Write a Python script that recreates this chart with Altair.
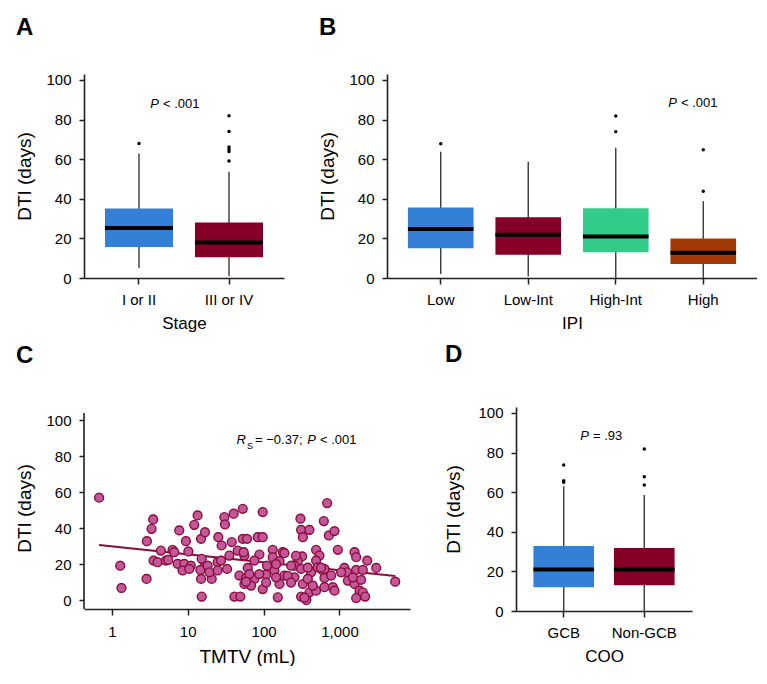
import altair as alt
import pandas as pd

FONT = "Liberation Sans"
INK = "#231f20"
BLUE = "#3380d6"
MAROON = "#850026"
GREEN = "#31cd88"
BROWN = "#a33a05"

# ---------------- Panel A: Stage ----------------
stage_cats = ["I or II", "III or IV"]
stage_q1 = [15.7, 10.5]
stage_med = [25.3, 17.9]
stage_q3 = [35.1, 28.0]
stage_lo = [5.1, 1.0]
stage_hi = [62.8, 53.7]
stage_out_cat = ["I or II", "III or IV", "III or IV", "III or IV", "III or IV", "III or IV", "III or IV"]
stage_out_val = [67.9, 81.9, 74.0, 66.2, 65.0, 63.9, 59.1]

# ---------------- Panel B: IPI ----------------
ipi_cats = ["Low", "Low-Int", "High-Int", "High"]
ipi_q1 = [15.0, 11.8, 13.0, 7.1]
ipi_med = [24.8, 21.9, 20.9, 12.8]
ipi_q3 = [35.6, 30.7, 35.2, 19.9]
ipi_lo = [2.0, 0.8, 0.0, 0.0]
ipi_hi = [63.7, 58.7, 65.8, 38.8]
ipi_out_cat = ["Low", "High-Int", "High-Int", "High", "High"]
ipi_out_val = [67.8, 81.8, 73.9, 64.8, 43.8]

# ---------------- Panel D: COO ----------------
coo_cats = ["GCB", "Non-GCB"]
coo_q1 = [12.0, 13.0]
coo_med = [20.9, 20.9]
coo_q3 = [32.8, 31.8]
coo_lo = [0.0, 0.0]
coo_hi = [63.0, 58.6]
coo_out_cat = ["GCB", "GCB", "GCB", "Non-GCB", "Non-GCB", "Non-GCB"]
coo_out_val = [73.7, 65.8, 65.0, 81.8, 67.8, 63.6]

# ---------------- Panel C: TMTV vs DTI ----------------
tmtv = [0.68, 1.29, 1.34, 2.90, 2.87, 3.34, 3.51, 3.55, 4.01, 4.43, 5.16, 5.54, 6.32, 6.65,
        7.36, 7.74, 9.01, 8.57, 9.48, 10.2, 11.0, 10.5, 12.2, 13.5, 15.0, 16.9, 15.3, 16.5,
        14.7, 15.0, 20.7, 18.3, 19.3, 15.3, 24.8, 27.5, 25.3, 28.0, 30.4, 31.0, 40.3, 53.1,
        33.0, 24.8, 35.4, 38.0, 45.6, 53.1, 55.8, 48.0, 58.7, 41.2, 49.4,
        60.5, 54.7, 83.7, 97.4, 97.4, 132, 179, 188, 88.0, 75.6, 132, 162, 322, 282, 255,
        492, 545, 492, 1580, 1660, 2320, 3050, 5430, 1160, 1260, 1660, 2030, 61.8, 108, 139,
        111, 231, 312, 255, 423, 603, 634, 777, 75.6, 97.4, 162, 154, 329, 312, 402, 492, 634,
        817, 860, 1290, 1580, 1930, 1840, 1660, 2030, 2180, 55.8, 68.4, 188, 382, 445, 1052,
        518, 634, 312, 402, 329, 306, 622, 688, 724, 860, 951, 1500, 146,
        65, 87.6, 58.6, 108, 146, 208, 382, 571, 267, 230, 366, 345]
dti = [56.9, 19.1, 6.7, 32.7, 11.7, 39.6, 44.8, 21.9, 21.0, 27.5, 21.9, 22.3, 27.9, 26.6,
       20.1, 38.7, 20.1, 16.4, 32.7, 27.0, 19.1, 17.3, 41.8, 47.0, 34.0, 37.7, 22.9, 18.2,
       16.7, 11.7, 11.7, 19.1, 15.4, 1.9, 21.0, 21.9, 34.9, 30.3, 46.1, 42.0, 48.0, 50.7,
       17.3, 16.4, 24.7, 32.2, 27.5, 34.0, 24.7, 13.6, 12.3, 1.9, 1.9,
       34.0, 26.6, 34.9, 34.9, 48.9, 27.9, 26.6, 26.0, 25.3, 21.9, 23.8, 21.6, 24.2, 21.6, 19.1,
       27.9, 24.7, 21.9, 26.6, 23.8, 21.9, 17.8, 10.2, 17.8, 15.4, 16.7, 16.7, 17.8, 14.1, 16.4,
       19.1, 19.1, 17.3, 12.6, 15.4, 16.4, 12.3, 13.6, 11.7, 6.1, 8.9, 1.5, 8.9, 1.9, 4.3, 5.2, 7.1,
       7.1, 5.2, 10.8, 8.9, 11.2, 5.2, 1.1, 4.3, 1.9, 8.9, 8.0, 13.6, 11.7, 8.0, 15.4,
       18.2, 17.3, 39.0, 39.0, 34.9, 45.2, 43.9, 53.9, 35.9, 38.3, 27.9, 12.6, 12.6,
       14.4, 14.4, 10.2, 9.7, 19.9, 13.4, 18.0, 18.0, 24.6, 9.7, 0.0, 1.3]

Y_TICKS = [0, 20, 40, 60, 80, 100]


def y_axis(title_pad=11, domain=True):
    return alt.Axis(title="DTI (days)", values=Y_TICKS, tickSize=5, labelPadding=8,
                    titlePadding=title_pad, grid=False, domain=domain)


def text_layer(txt, x, y, size=13, italic=False, align="left", baseline="middle"):
    return alt.Chart(pd.DataFrame({"t": [txt]})).mark_text(
        text=txt, font=FONT, fontSize=size, fontStyle="italic" if italic else "normal",
        align=align, baseline=baseline, color="black"
    ).encode(x=alt.value(x), y=alt.value(y))


def box_panel(key, cats, q1, med, q3, lo, hi, out_cat, out_val, colors, width, pi, po,
              xtitle, letter, toffset, annots, title_pad=11):
    summ = pd.DataFrame({key: cats, "q1": q1, "med": med, "q3": q3, "lo": lo, "hi": hi})
    outs = pd.DataFrame({key: out_cat, "val": out_val})
    step = width / (len(cats) - pi + 2 * po)
    box_px = step * (1 - pi)
    xenc = alt.X(f"{key}:N", sort=cats,
                 scale=alt.Scale(domain=cats, paddingInner=pi, paddingOuter=po),
                 axis=alt.Axis(title=xtitle, labelAngle=0, tickSize=6, labelPadding=8,
                               titlePadding=8, titleFontSize=17,
                               labelFontSize=15, grid=False))
    ys = alt.Scale(domain=[0, 103], nice=False, zero=False)
    ya = y_axis(title_pad)
    whisk = alt.Chart(summ).mark_rule(color="#3a3a3a", strokeWidth=1.4).encode(
        x=xenc, y=alt.Y("lo:Q", scale=ys, axis=ya), y2="hi:Q")
    box = alt.Chart(summ).mark_bar(opacity=1).encode(
        x=xenc, y=alt.Y("q1:Q", scale=ys, axis=ya), y2="q3:Q",
        color=alt.Color(f"{key}:N", scale=alt.Scale(domain=cats, range=colors), legend=None))
    medt = alt.Chart(summ).mark_tick(color="black", thickness=4, size=box_px, opacity=1).encode(
        x=xenc, y=alt.Y("med:Q", scale=ys, axis=ya))
    outp = alt.Chart(outs).mark_circle(color="black", size=12, opacity=1).encode(
        x=xenc, y=alt.Y("val:Q", scale=ys, axis=ya))
    layers = [whisk, box, medt, outp] + annots
    return alt.layer(*layers).properties(
        width=width, height=204,
        title=alt.TitleParams(letter, anchor="start", frame="bounds", fontSize=24,
                              font=FONT, fontWeight="bold", color="black", offset=toffset))


panel_a = box_panel("stage", stage_cats, stage_q1, stage_med, stage_q3, stage_lo, stage_hi,
                    stage_out_cat, stage_out_val, [BLUE, MAROON], 200, 0.244, 0.233,
                    "Stage", "A", 33,
                    [text_layer("P", 75, 30, italic=True, align="right"),
                     text_layer("< .001", 79, 30)])

panel_b = box_panel("ipi", ipi_cats, ipi_q1, ipi_med, ipi_q3, ipi_lo, ipi_hi,
                    ipi_out_cat, ipi_out_val, [BLUE, MAROON, GREEN, BROWN], 370, 0.25, 0.239,
                    "IPI", "B", 33,
                    [text_layer("P", 290, 29, italic=True, align="right"),
                     text_layer("< .001", 294, 29)])

panel_d = box_panel("coo", coo_cats, coo_q1, coo_med, coo_q3, coo_lo, coo_hi,
                    coo_out_cat, coo_out_val, [BLUE, MAROON], 176, 0.247, 0.216,
                    "COO", "D", 39,
                    [text_layer("P", 73, 29, italic=True, align="right"),
                     text_layer("= .93", 77, 29)], title_pad=14)

scatter_df = pd.DataFrame({"tmtv": tmtv, "dti": dti})
axis_line = pd.DataFrame({"lo": [-5], "hi": [104]})
xs = alt.Scale(type="log", domain=[0.43, 8500], nice=False)
ysc = alt.Scale(domain=[-5, 107.3], nice=False, zero=False)
x_c = alt.X("tmtv:Q", scale=xs,
            axis=alt.Axis(title="TMTV (mL)", values=[1, 10, 100, 1000], format=",",
                          tickSize=6, labelPadding=9, titlePadding=8, labelFontSize=15,
                          grid=False))
y_c = alt.Y("dti:Q", scale=ysc, axis=y_axis(domain=False))
yline = alt.Chart(axis_line).mark_rule(color=INK, strokeWidth=1.6).encode(
    x=alt.value(0), y=alt.Y("lo:Q", scale=ysc, axis=y_axis(domain=False)), y2="hi:Q")
pts = alt.Chart(scatter_df).mark_circle(size=78, fill="#c2579a", stroke="#8b0b3a",
                                        strokeWidth=1.4, opacity=1).encode(x=x_c, y=y_c)
fit = alt.Chart(scatter_df).transform_regression(
    "tmtv", "dti", method="log").mark_line(color="#8b0b3a", strokeWidth=2).encode(x=x_c, y=y_c)

panel_c = alt.layer(
    yline, fit, pts,
    text_layer("R", 162, 33, italic=True, align="right"),
    text_layer("S", 163, 39, size=9),
    text_layer("= \u22120.37;", 171, 33),
    text_layer("P", 232, 33, italic=True, align="right"),
    text_layer("< .001", 236, 33),
).properties(
    width=326, height=202,
    title=alt.TitleParams("C", anchor="start", frame="bounds", fontSize=24,
                          font=FONT, fontWeight="bold", color="black", offset=39))

row1 = alt.hconcat(panel_a, panel_b, spacing=34).resolve_scale(color="independent")
row2 = alt.hconcat(panel_c, panel_d, spacing=34).resolve_scale(color="independent")

chart = alt.vconcat(row1, row2, spacing=11).resolve_scale(color="independent").properties(
    padding={"left": 7, "top": 7, "right": 0, "bottom": 0},
    background="white",
).configure_view(stroke=None).configure_axis(
    domainColor=INK, domainWidth=1.6, tickColor=INK, tickWidth=1.5,
    labelColor="black", labelFont=FONT, labelFontSize=15,
    titleColor="black", titleFont=FONT, titleFontSize=19, titleFontWeight="normal",
)

chart.save("out.html", embed_options={"renderer": "svg", "actions": False})
